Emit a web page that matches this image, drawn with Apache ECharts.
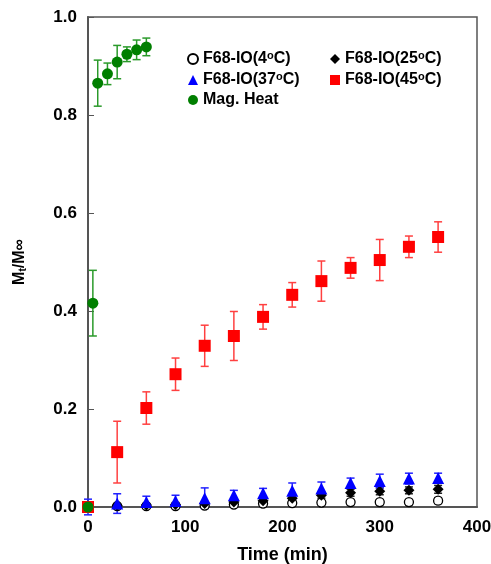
<!DOCTYPE html>
<html><head><meta charset="utf-8">
<script src="https://cdn.jsdelivr.net/npm/echarts@6/dist/echarts.min.js"></script>
<style>html,body{margin:0;padding:0;background:#fff}#c{width:491px;height:564px}</style>
</head><body><div id="c"></div>
<script>
const times = [0, 30, 60, 90, 120, 150, 180, 210, 240, 270, 300, 330, 360];
const c4Vals = [0, 0.002, 0.002, 0.002, 0.003, 0.005, 0.007, 0.008, 0.009, 0.010, 0.010, 0.010, 0.013];
const c4Err = [0, 0.003, 0.003, 0.003, 0.003, 0.004, 0.004, 0.004, 0.004, 0.005, 0.005, 0.005, 0.006];
const c25Vals = [0, 0.003, 0.004, 0.005, 0.007, 0.010, 0.013, 0.018, 0.024, 0.029, 0.032, 0.034, 0.036];
const c25Err = [0, 0.003, 0.003, 0.004, 0.004, 0.005, 0.005, 0.006, 0.006, 0.007, 0.007, 0.007, 0.008];
const c37Vals = [0, 0.007, 0.010, 0.012, 0.018, 0.024, 0.028, 0.033, 0.038, 0.049, 0.053, 0.058, 0.059];
const c37Err = [0.016, 0.020, 0.012, 0.012, 0.021, 0.010, 0.010, 0.016, 0.013, 0.010, 0.014, 0.011, 0.010];
const c45Vals = [0, 0.112, 0.202, 0.271, 0.329, 0.349, 0.388, 0.433, 0.461, 0.488, 0.504, 0.531, 0.551];
const c45Err = [0, 0.063, 0.033, 0.033, 0.042, 0.050, 0.025, 0.025, 0.041, 0.021, 0.042, 0.022, 0.031];
const magTimes = [0, 5, 10, 20, 30, 40, 50, 60];
const magVals = [0, 0.416, 0.865, 0.884, 0.908, 0.924, 0.933, 0.939];
const magErr = [0, 0.067, 0.047, 0.022, 0.034, 0.015, 0.020, 0.018];
const xTicks = [0, 100, 200, 300, 400];
const yTicks = [0, 0.2, 0.4, 0.6, 0.8, 1.0];

const FONT = '"Liberation Sans", Arial, sans-serif';
const names = ['F68-IO(4°C)', 'F68-IO(25°C)', 'F68-IO(37°C)', 'F68-IO(45°C)', 'Mag. Heat'];

function pts(xs, ys) { return xs.map((x, i) => [x, ys[i]]); }
function errPts(xs, ys, es) { return xs.map((x, i) => [x, ys[i], es[i]]); }

function errSeries(xs, ys, es, color) {
  return {
    type: 'custom', silent: true, z: 1,
    data: errPts(xs, ys, es),
    encode: { x: 0, y: 1 },
    renderItem: function (params, api) {
      const x = api.value(0), y = api.value(1), e = api.value(2);
      if (!e) return null;
      const p1 = api.coord([x, y + e]), p2 = api.coord([x, y - e]);
      const w = 4;
      const st = { stroke: color, lineWidth: 1.5 };
      return { type: 'group', children: [
        { type: 'line', shape: { x1: p1[0], y1: p1[1], x2: p2[0], y2: p2[1] }, style: st },
        { type: 'line', shape: { x1: p1[0] - w, y1: p1[1], x2: p1[0] + w, y2: p1[1] }, style: st },
        { type: 'line', shape: { x1: p2[0] - w, y1: p2[1], x2: p2[0] + w, y2: p2[1] }, style: st }
      ] };
    }
  };
}

const legendText = { fontFamily: FONT, fontWeight: 'bold', fontSize: 16, color: '#000',
  rich: { s: { fontFamily: FONT, fontWeight: 'bold', fontSize: 11, color: '#000', verticalAlign: 'top', padding: [0, 0, 7, 0] } } };
const legendFmt = n => n.replace('°', '{s|o}');

const chart = echarts.init(document.getElementById('c'));
chart.setOption({
  animation: false,
  backgroundColor: '#fff',
  grid: { left: 88, right: 14, top: 17, bottom: 57, show: true, borderColor: '#555', borderWidth: 1.5,
    containLabel: false, outerBoundsMode: 'none' },
  xAxis: {
    type: 'value', min: 0, max: 400, interval: 100,
    axisLine: { show: true, lineStyle: { color: '#555', width: 2 } },
    axisTick: { show: false },
    splitLine: { show: false },
    axisLabel: { fontFamily: FONT, fontWeight: 'bold', fontSize: 17, color: '#000', margin: 12,
      formatter: v => xTicks.includes(v) ? String(v) : '' },
    name: 'Time (min)', nameLocation: 'middle', nameGap: 39,
    nameTextStyle: { fontFamily: FONT, fontWeight: 'bold', fontSize: 18, color: '#000' }
  },
  yAxis: {
    type: 'value', min: 0, max: 1, interval: 0.2,
    axisLine: { show: true, lineStyle: { color: '#555', width: 2 } },
    axisTick: { show: true, inside: true, length: 6, lineStyle: { color: '#555' } },
    splitLine: { show: false },
    axisLabel: { fontFamily: FONT, fontWeight: 'bold', fontSize: 17, color: '#000', margin: 11,
      formatter: v => yTicks.some(t => Math.abs(t - v) < 1e-9) ? v.toFixed(1) : '' },
    name: 'M{sub|t}/M∞', nameLocation: 'middle', nameGap: 60,
    nameTextStyle: { fontFamily: FONT, fontWeight: 'bold', fontSize: 16, color: '#000',
      rich: { sub: { fontFamily: FONT, fontWeight: 'bold', fontSize: 10, color: '#000', verticalAlign: 'bottom', padding: [6, 0, 0, 0] } } }
  },
  legend: [
    { orient: 'vertical', left: 182, top: 45, itemGap: 4, itemWidth: 10, itemHeight: 10,
      data: [names[0], names[2], names[4]], textStyle: legendText, formatter: legendFmt },
    { orient: 'vertical', left: 325, top: 45, itemGap: 4, itemWidth: 10, itemHeight: 10,
      data: [names[1], names[3]], textStyle: legendText, formatter: legendFmt }
  ],
  series: [
    errSeries(times, c4Vals, c4Err, '#333'),
    errSeries(times, c25Vals, c25Err, '#222'),
    errSeries(times, c37Vals, c37Err, '#2222ff'),
    errSeries(times, c45Vals, c45Err, '#ff4040'),
    errSeries(magTimes, magVals, magErr, '#2a9a2a'),
    { name: names[0], type: 'scatter', z: 3, symbol: 'circle', symbolSize: 9, data: pts(times, c4Vals),
      itemStyle: { color: '#fff', borderColor: '#000', borderWidth: 1.3, opacity: 1 } },
    { name: names[1], type: 'scatter', z: 3, symbol: 'diamond', symbolSize: 11, data: pts(times, c25Vals),
      itemStyle: { color: '#000', opacity: 1 } },
    { name: names[2], type: 'scatter', z: 3, symbol: 'triangle', symbolSize: 12, data: pts(times, c37Vals),
      itemStyle: { color: '#0000ff', opacity: 1 } },
    { name: names[3], type: 'scatter', z: 3, symbol: 'rect', symbolSize: 12, data: pts(times, c45Vals),
      itemStyle: { color: '#ff0000', opacity: 1 } },
    { name: names[4], type: 'scatter', z: 3, symbol: 'circle', symbolSize: 11, data: pts(magTimes, magVals),
      itemStyle: { color: '#007f00', opacity: 1 } }
  ]
});
</script></body></html>
